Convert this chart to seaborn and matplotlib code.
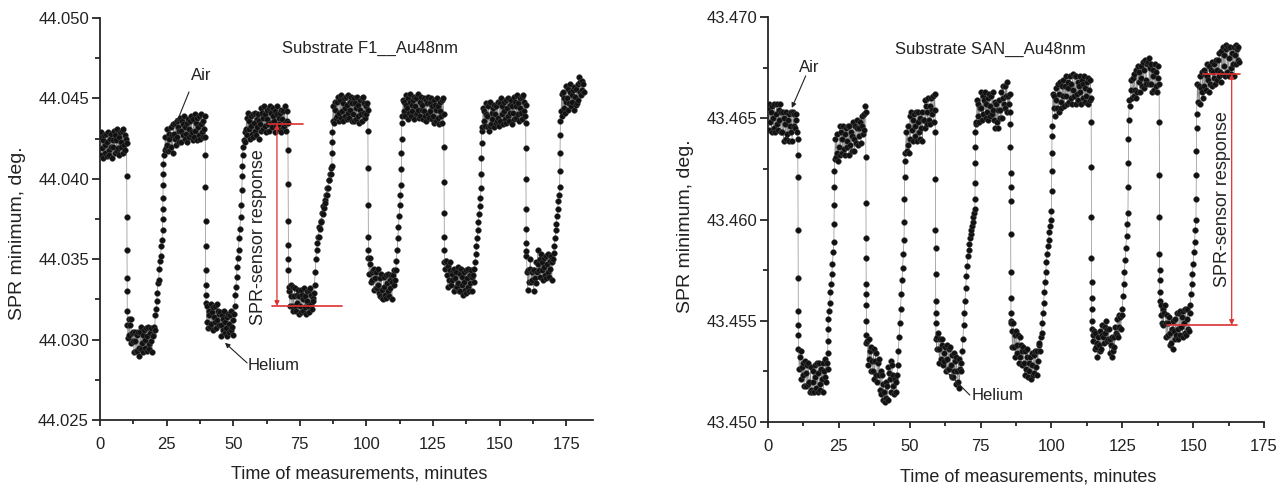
import numpy as np
import pandas as pd
import matplotlib
matplotlib.use("Agg")
import matplotlib.pyplot as plt
from matplotlib.ticker import MultipleLocator, FormatStrFormatter
import seaborn as sns

# ---------------------------------------------------------------------------
# Logged SPR-minimum readings, one every STEP minutes, stored as millidegrees
# above a base angle (20 readings = 5 minutes per row).  Fast gas-switch
# transitions were logged more densely; those extra readings are kept
# separately together with the grid time they follow.
# ---------------------------------------------------------------------------
STEP = 0.25  # minutes between regular readings

F1_BASE = 44.0
f1_mdeg = [
    42.6, 41.5, 42.9, 41.9, 42.4, 41.3, 42.7, 42.1, 41.6, 42.8, 41.4, 42.3, 42.9, 41.8, 41.5, 42.5, 42.0, 42.8, 41.3, 42.4,  # 0
    42.0, 43.0, 41.6, 42.7, 42.4, 41.7, 43.1, 41.9, 42.6, 41.5, 42.9, 42.3, 42.0, 43.0, 41.6, 43.1, 42.1, 42.7, 41.8, 42.5,  # 5
    42.2, 30.9, 30.1, 31.3, 30.3, 30.9, 31.3, 29.8, 30.4, 29.9, 30.5, 29.2, 30.5, 29.9, 29.3, 30.3, 29.3, 30.5, 29.5, 29.0,  # 10
    30.5, 29.4, 30.8, 29.8, 30.3, 29.2, 30.6, 30.0, 29.5, 30.7, 29.3, 30.2, 30.8, 29.7, 29.4, 30.4, 29.9, 30.7, 29.2, 30.3,  # 15
    30.2, 30.8, 30.6, 31.5, 31.9, 32.4, 32.9, 33.5, 33.7, 34.4, 34.9, 35.2, 35.8, 36.2, 36.8, 40.9, 41.5, 41.8, 42.6, 41.9,  # 20
    42.1, 43.1, 41.7, 42.8, 42.5, 41.8, 43.2, 42.0, 42.7, 41.6, 43.4, 42.8, 42.5, 43.5, 42.1, 43.6, 42.6, 43.2, 42.3, 43.0,  # 25
    43.8, 43.0, 42.3, 43.6, 42.7, 43.4, 43.9, 42.5, 43.2, 42.8, 43.5, 42.3, 43.7, 43.1, 42.6, 43.6, 42.7, 43.9, 42.9, 42.4,  # 30
    43.7, 42.6, 44.0, 43.0, 43.5, 42.4, 43.8, 43.2, 42.7, 43.9, 42.5, 43.4, 44.0, 42.9, 42.6, 43.6, 43.1, 43.9, 42.6, 32.3,  # 35
    31.1, 32.1, 30.7, 31.8, 31.5, 30.8, 32.2, 31.0, 31.7, 30.6, 32.0, 31.4, 31.1, 32.1, 30.7, 32.2, 31.2, 31.8, 30.9, 31.6,  # 40
    31.7, 30.9, 30.2, 31.5, 30.6, 31.3, 31.8, 30.4, 31.1, 30.7, 31.4, 30.2, 31.6, 31.0, 30.5, 31.5, 30.6, 31.8, 30.8, 30.3,  # 45
    31.2, 31.6, 32.1, 32.8, 33.3, 33.9, 34.5, 35.1, 35.6, 36.3, 36.9, 37.6, 38.4, 39.3, 41.5, 42.0, 42.4, 42.9, 42.3, 43.1,  # 50
    43.8, 42.7, 44.1, 43.1, 43.6, 42.5, 43.9, 43.3, 42.8, 44.0, 42.6, 43.5, 44.1, 43.0, 42.7, 43.7, 43.2, 44.0, 42.5, 43.6,  # 55
    43.4, 44.4, 43.0, 44.1, 43.8, 43.1, 44.5, 43.3, 44.0, 42.9, 44.3, 43.7, 43.4, 44.4, 43.0, 44.5, 43.5, 44.1, 43.2, 43.9,  # 60
    44.4, 43.6, 42.9, 44.2, 43.3, 44.0, 44.5, 43.1, 43.8, 43.4, 44.1, 42.9, 44.3, 43.7, 43.2, 44.2, 43.3, 44.5, 43.5, 43.0,  # 65
    43.6, 44.2, 43.5, 33.0, 33.3, 32.1, 33.4, 32.7, 32.1, 33.3, 31.8, 32.7, 33.2, 32.1, 31.8, 32.8, 32.3, 33.1, 31.6, 32.7,  # 70
    32.1, 33.1, 31.7, 32.8, 32.5, 31.8, 33.2, 32.0, 32.7, 31.6, 33.0, 32.4, 32.1, 33.1, 31.7, 33.2, 32.2, 32.8, 31.9, 32.6,  # 75
    32.4, 32.9, 33.4, 34.2, 35.0, 35.6, 36.0, 36.4, 36.4, 37.0, 36.9, 37.4, 37.3, 37.9, 37.8, 38.3, 38.2, 38.7, 38.5, 39.0,  # 80
    39.0, 39.4, 39.4, 39.9, 39.9, 40.3, 40.3, 40.7, 40.8, 43.6, 44.5, 43.5, 44.8, 44.3, 43.8, 44.8, 43.9, 45.1, 44.1, 43.6,  # 85
    44.9, 43.8, 45.2, 44.2, 44.7, 43.6, 45.0, 44.4, 43.9, 45.1, 43.7, 44.6, 45.2, 44.1, 43.8, 44.8, 44.3, 45.1, 43.6, 44.7,  # 90
    44.0, 45.0, 43.6, 44.7, 44.4, 43.7, 45.1, 43.9, 44.6, 43.5, 44.9, 44.3, 44.0, 45.0, 43.6, 45.1, 44.1, 44.7, 43.8, 44.5,  # 95
    44.0, 44.7, 44.3, 35.1, 34.1, 34.7, 35.1, 33.6, 34.2, 33.7, 34.3, 33.1, 34.4, 33.8, 33.2, 34.2, 33.2, 34.4, 33.4, 32.9,  # 100
    33.8, 32.7, 34.1, 33.1, 32.6, 32.5, 33.9, 33.3, 32.8, 34.0, 32.6, 33.5, 34.1, 33.0, 32.7, 33.7, 33.2, 34.0, 32.5, 33.6,  # 105
    34.0, 33.4, 34.3, 33.7, 34.3, 34.9, 35.6, 36.3, 37.0, 37.7, 38.4, 39.0, 39.6, 43.5, 43.9, 44.9, 44.2, 44.8, 43.9, 44.6,  # 110
    45.2, 44.4, 43.7, 45.0, 44.1, 44.8, 45.3, 43.9, 44.6, 44.2, 44.9, 43.7, 45.1, 44.5, 44.0, 45.0, 44.1, 45.3, 44.3, 43.8,  # 115
    44.8, 43.9, 45.1, 44.3, 44.6, 43.7, 45.0, 44.2, 43.9, 44.9, 43.6, 44.7, 45.1, 44.0, 43.8, 44.7, 44.2, 45.0, 43.7, 44.5,  # 120
    43.9, 44.9, 43.5, 44.6, 44.3, 43.6, 45.0, 43.8, 44.5, 43.4, 44.8, 44.2, 43.9, 44.9, 43.5, 45.0, 44.0, 34.8, 34.4, 34.9,  # 125
    34.9, 34.0, 33.3, 34.6, 33.7, 34.3, 34.8, 33.4, 34.1, 33.7, 34.3, 33.0, 34.4, 33.8, 33.3, 34.2, 33.3, 34.5, 33.5, 33.0,  # 130
    34.1, 33.0, 34.4, 33.4, 33.9, 32.8, 34.2, 33.6, 33.1, 34.3, 32.9, 33.8, 34.4, 33.3, 33.0, 34.0, 33.5, 34.3, 33.0, 33.9,  # 135
    34.0, 33.6, 34.4, 34.8, 35.3, 35.8, 36.3, 36.8, 37.3, 37.8, 38.3, 38.8, 39.4, 43.0, 43.2, 44.4, 43.6, 44.2, 43.3, 44.0,  # 140
    44.7, 43.9, 43.2, 44.5, 43.0, 43.3, 44.8, 43.4, 44.1, 43.7, 44.4, 43.2, 44.6, 44.0, 43.5, 44.5, 43.6, 44.8, 43.8, 43.3,  # 145
    44.7, 43.6, 45.0, 44.0, 44.5, 43.4, 44.8, 44.2, 43.7, 44.9, 43.5, 44.4, 45.0, 43.9, 43.6, 44.6, 44.1, 44.9, 43.4, 44.5,  # 150
    44.1, 45.1, 43.7, 44.8, 44.5, 43.8, 45.2, 44.0, 44.7, 43.6, 45.0, 44.4, 44.1, 45.1, 43.7, 45.2, 44.2, 44.8, 43.9, 44.6,  # 155
    35.5, 34.2, 33.1, 34.3, 33.6, 34.4, 35.0, 33.6, 34.2, 33.7, 34.3, 33.0, 34.3, 33.8, 33.5, 34.8, 34.2, 35.6, 34.7, 34.3,  # 160
    35.0, 33.9, 35.3, 34.3, 34.8, 33.7, 35.1, 34.5, 34.0, 35.2, 33.8, 34.7, 35.3, 34.2, 33.9, 34.9, 34.4, 35.2, 33.7, 34.8,  # 165
    35.0, 35.4, 35.8, 36.3, 36.8, 37.2, 37.7, 38.1, 38.6, 39.0, 39.5, 43.6, 44.2, 45.3, 43.9, 45.4, 44.4, 45.0, 44.1, 44.8,  # 170
    45.8, 45.0, 44.3, 45.6, 44.7, 45.4, 45.9, 44.5, 45.2, 44.8, 45.5, 44.3, 45.7, 45.1, 44.6, 45.6, 44.7, 45.9, 44.9, 46.3,  # 175
    45.4, 46.0, 45.2, 46.1, 45.5, 45.9, 45.4,                                                                                # 180
]
f1_switch_after = [10.0, 23.5, 39.5, 53.25, 70.5, 87.0,
                   100.5, 113.0, 129.0, 143.0, 159.75, 172.5]
f1_switch_mdeg = [
    [40.2, 37.6, 35.6, 33.8, 33.0, 31.8],
    [37.5, 38.1, 38.8, 39.6, 40.3],
    [41.5, 39.5, 37.4, 35.8, 34.3, 33.4, 32.8],
    [40.2, 40.8],
    [41.8, 39.7, 37.4, 35.9, 35.0, 34.3],
    [41.6, 42.3, 42.9],
    [43.0, 40.7, 38.4, 36.4, 35.6],
    [40.6, 41.6, 42.5],
    [42.0, 39.8, 37.9, 36.4, 35.6],
    [40.3, 41.3, 42.2],
    [43.5, 41.9, 40.0, 38.1, 36.9, 36.0, 35.2],
    [40.5, 41.6, 42.7],
]

SAN_BASE = 43.4
san_mdeg = [
    65.5, 64.4, 65.7, 64.8, 65.3, 64.3, 65.6, 65.0, 64.5, 65.7, 64.3, 65.2, 65.7, 64.7, 64.4, 65.4, 64.9, 65.7, 64.3, 65.3,  # 0
    64.3, 65.3, 63.9, 65.0, 64.7, 64.0, 65.3, 64.2, 64.9, 63.9, 65.2, 64.6, 64.3, 65.3, 63.9, 65.3, 64.6, 65.2, 64.5, 65.2,  # 5
    64.9, 64.3, 64.0, 53.6, 52.6, 53.2, 53.5, 52.1, 52.7, 52.3, 52.9, 51.8, 53.0, 52.4, 51.8, 52.8, 51.9, 52.9, 52.0, 51.5,  # 10
    52.7, 51.6, 51.5, 52.0, 52.5, 51.5, 52.8, 52.2, 51.7, 52.9, 51.5, 52.4, 52.9, 51.9, 51.6, 52.6, 52.1, 52.9, 51.5, 52.5,  # 15
    52.2, 53.1, 52.0, 52.9, 52.6, 55.1, 55.5, 55.9, 56.4, 56.8, 57.3, 57.8, 58.4, 58.9, 63.0, 64.0, 63.1, 64.2, 63.3, 62.9,  # 20
    63.6, 64.6, 63.2, 64.3, 64.0, 63.3, 64.6, 63.5, 64.2, 63.2, 64.5, 63.9, 63.6, 64.6, 63.2, 64.6, 63.7, 64.3, 63.4, 64.1,  # 25
    64.8, 64.0, 63.4, 64.6, 63.8, 64.5, 64.9, 63.7, 64.5, 64.1, 64.8, 63.8, 65.1, 64.6, 64.2, 65.2, 64.4, 65.6, 65.3, 53.9,  # 30
    54.0, 52.8, 54.1, 53.1, 53.5, 52.5, 53.7, 53.0, 52.5, 53.6, 52.1, 53.0, 53.4, 52.3, 52.0, 52.9, 52.3, 53.1, 51.6, 52.5,  # 35
    51.4, 52.3, 51.1, 51.9, 51.5, 51.0, 52.0, 51.2, 51.8, 51.1, 52.7, 52.4, 52.1, 53.0, 51.5, 52.8, 51.8, 52.3, 51.4, 52.1,  # 40
    52.0, 51.5, 52.3, 52.8, 53.5, 54.2, 54.9, 55.6, 56.3, 57.0, 57.6, 58.3, 59.0, 62.9, 63.3, 64.3, 63.4, 64.6, 63.7, 63.3,  # 45
    65.1, 64.0, 65.3, 64.4, 64.9, 63.9, 65.2, 64.6, 64.1, 65.3, 63.9, 64.8, 65.3, 64.3, 64.0, 65.0, 64.5, 65.3, 63.9, 64.9,  # 50
    64.9, 65.9, 64.5, 65.6, 65.3, 64.7, 66.0, 64.9, 65.6, 64.7, 66.0, 65.4, 65.2, 66.1, 64.8, 66.2, 65.4, 54.1, 53.6, 54.2,  # 55
    54.4, 53.6, 52.9, 54.1, 53.1, 53.8, 54.1, 52.8, 53.4, 53.0, 53.7, 52.5, 53.8, 53.1, 52.6, 53.6, 52.6, 53.7, 52.8, 52.2,  # 60
    53.3, 52.2, 53.4, 52.5, 53.0, 51.9, 53.2, 52.5, 52.0, 53.1, 51.7, 52.6, 52.5, 52.9, 53.5, 54.1, 54.8, 55.4, 56.0, 56.6,  # 65
    57.2, 57.7, 58.2, 58.5, 58.8, 59.1, 59.3, 59.5, 59.7, 59.9, 60.1, 60.3, 60.5, 64.7, 64.8, 65.9, 65.1, 65.7, 64.8, 65.5,  # 70
    66.3, 65.5, 64.9, 66.1, 65.2, 65.9, 66.3, 65.0, 65.7, 65.3, 66.0, 64.9, 66.2, 65.6, 65.1, 66.1, 65.2, 66.3, 65.4, 64.9,  # 75
    65.8, 64.5, 65.7, 64.8, 65.4, 64.5, 65.9, 65.4, 65.0, 66.3, 65.0, 66.0, 66.6, 65.7, 65.5, 66.6, 66.1, 66.8, 65.3, 66.1,  # 80
    65.7, 66.2, 65.3, 54.9, 54.5, 53.7, 54.9, 53.7, 54.3, 53.2, 54.5, 53.8, 53.4, 54.3, 52.9, 54.2, 53.2, 53.8, 52.8, 53.5,  # 85
    53.7, 52.9, 52.3, 53.5, 52.6, 53.2, 53.6, 52.2, 52.9, 52.5, 53.2, 52.1, 53.4, 52.8, 52.3, 53.3, 52.4, 53.5, 52.7, 52.3,  # 90
    53.5, 53.0, 53.8, 53.9, 53.5, 54.2, 54.4, 54.9, 55.4, 55.9, 56.4, 56.9, 57.4, 57.9, 58.3, 58.7, 59.0, 59.4, 59.7, 60.0,  # 95
    60.4, 64.6, 66.2, 65.5, 66.1, 65.1, 66.5, 65.9, 65.5, 66.7, 65.3, 66.2, 66.8, 65.8, 65.5, 66.6, 66.1, 66.9, 65.6, 66.6,  # 100
    66.1, 67.1, 65.7, 66.8, 66.5, 65.8, 67.1, 66.0, 66.7, 65.7, 67.2, 66.4, 66.1, 67.1, 65.7, 67.1, 66.2, 66.8, 65.9, 66.6,  # 105
    67.1, 66.3, 65.7, 66.9, 66.0, 66.7, 67.1, 65.8, 66.5, 66.1, 66.8, 65.7, 67.0, 66.4, 65.9, 66.9, 66.0, 54.6, 54.0, 54.3,  # 110
    54.5, 53.6, 54.4, 53.7, 53.9, 53.2, 54.2, 53.8, 53.5, 54.5, 53.6, 54.3, 54.8, 54.2, 53.9, 54.7, 54.4, 55.0, 54.0, 54.6,  # 115
    54.1, 54.6, 53.4, 54.1, 53.8, 53.2, 54.2, 53.5, 54.2, 53.7, 54.7, 54.4, 54.3, 55.1, 54.2, 55.3, 54.7, 55.2, 54.6, 55.3,  # 120
    55.6, 56.2, 56.8, 57.4, 58.0, 58.6, 59.2, 59.8, 60.3, 64.9, 65.9, 65.6, 66.9, 66.4, 66.0, 67.0, 66.1, 67.2, 66.4, 66.0,  # 125
    67.4, 66.3, 67.6, 66.8, 67.3, 66.3, 67.6, 67.0, 66.6, 67.8, 66.5, 67.4, 67.9, 66.9, 66.7, 67.7, 67.8, 68.0, 66.7, 67.5,  # 130
    66.7, 67.7, 66.3, 67.4, 67.1, 66.4, 67.7, 66.6, 67.3, 66.3, 67.6, 67.0, 66.7, 56.0, 55.3, 55.8, 54.9, 55.6, 54.8, 55.4,  # 135
    55.8, 54.9, 54.2, 55.3, 54.3, 54.9, 55.2, 53.8, 54.4, 53.9, 54.6, 53.6, 55.0, 54.5, 54.1, 55.1, 54.3, 55.4, 54.6, 54.1,  # 140
    55.4, 54.3, 55.5, 54.7, 55.2, 54.2, 55.5, 54.9, 54.4, 55.6, 54.3, 55.1, 55.6, 54.6, 54.5, 55.4, 55.8, 56.3, 56.8, 57.3,  # 145
    57.8, 58.4, 58.9, 59.5, 60.0, 65.2, 66.7, 65.8, 66.6, 65.7, 67.1, 66.5, 66.3, 67.3, 66.0, 67.4, 66.6, 67.2, 66.4, 67.1,  # 150
    67.7, 66.9, 66.3, 67.6, 66.7, 67.4, 67.8, 66.6, 67.3, 67.0, 67.7, 66.7, 67.9, 67.4, 66.9, 67.9, 67.1, 68.2, 67.3, 66.8,  # 155
    68.3, 67.2, 68.5, 67.6, 68.1, 67.1, 68.4, 68.6, 67.3, 68.5, 67.1, 68.0, 68.5, 67.5, 67.2, 68.2, 67.7, 68.5, 67.1, 68.1,  # 160
    68.6, 67.7, 68.4, 67.9, 68.5, 67.8,                                                                                      # 165
]
san_switch_after = [10.5, 21.0, 23.25, 34.5, 48.0, 59.0, 73.0,
                    85.5, 100.0, 114.0, 127.0, 138.0, 151.0]
san_switch_mdeg = [
    [63.2, 62.1, 59.5, 57.1, 55.5, 54.8, 54.3],
    [53.4, 54.0, 54.6],
    [59.8, 60.7, 61.6, 62.4],
    [63.1, 60.8, 59.1, 58.1, 56.8, 56.3, 55.8, 55.0, 54.3],
    [59.9, 61.0, 62.1],
    [64.3, 62.0, 59.5, 58.6, 57.3, 56.0, 55.4, 54.9],
    [61.0, 61.8, 62.8, 63.6, 64.3],
    [64.7, 63.6, 62.3, 61.6, 60.9, 59.3, 57.4, 56.1, 55.4, 55.0],
    [61.4, 62.4, 63.3, 64.1],
    [64.8, 62.6, 60.1, 58.1, 56.9, 56.1, 55.6, 55.0],
    [61.6, 62.8, 64.0],
    [64.8, 62.2, 60.1, 58.3, 57.5, 57.0, 56.4],
    [61.0, 62.2, 63.4, 64.5],
]


def build_series(base, grid_mdeg, switch_after, switch_mdeg):
    """Merge the regular readings with the dense switching readings."""
    t = list(np.arange(len(grid_mdeg)) * STEP)
    v = list(grid_mdeg)
    for t0, vals in zip(switch_after, switch_mdeg):
        n = len(vals)
        for k, val in enumerate(vals):
            t.append(t0 + STEP * (k + 1) / (n + 1))
            v.append(val)
    df = pd.DataFrame({"time": t, "spr": base + np.array(v) / 1000.0})
    return df.sort_values("time").reset_index(drop=True)


f1 = build_series(F1_BASE, f1_mdeg, f1_switch_after, f1_switch_mdeg)
san = build_series(SAN_BASE, san_mdeg, san_switch_after, san_switch_mdeg)

# ---------------------------------------------------------------------------
sns.set_theme(style="ticks")
plt.rcParams["font.family"] = ["Liberation Sans", "DejaVu Sans"]
plt.rcParams["axes.linewidth"] = 1.3

W, H = 1288, 490
fig = plt.figure(figsize=(W / 100, H / 100), dpi=100)
fig.patch.set_facecolor("white")

RED = "#dd3030"
TICK_FS = 12
LABEL_FS = 13


def px_axes(x0, x1, top, bottom):
    return fig.add_axes([x0 / W, (H - bottom) / H, (x1 - x0) / W, (bottom - top) / H])


def draw_series(ax, df):
    sns.lineplot(data=df, x="time", y="spr", ax=ax, color="#8c8c8c",
                 linewidth=0.5, estimator=None, sort=False, zorder=2)
    sns.scatterplot(data=df, x="time", y="spr", ax=ax, s=17, color="#111111",
                    edgecolor="#4a4a4a", linewidth=0.35, zorder=3)


def style_axes(ax, xmax, ylo, yhi, ylabel_pos, xlabel_pos):
    ax.set_xlim(0, xmax)
    ax.set_ylim(ylo, yhi)
    ax.xaxis.set_major_locator(MultipleLocator(25))
    ax.xaxis.set_minor_locator(MultipleLocator(12.5))
    ax.yaxis.set_major_locator(MultipleLocator(0.005))
    ax.yaxis.set_minor_locator(MultipleLocator(0.0025))
    ax.yaxis.set_major_formatter(FormatStrFormatter("%.3f"))
    ax.xaxis.set_major_formatter(FormatStrFormatter("%d"))
    for side in ("top", "right"):
        ax.spines[side].set_visible(False)
    ax.tick_params(axis="both", which="both", direction="out", colors="black",
                   width=1.1, labelsize=TICK_FS, labelcolor="#222222")
    ax.tick_params(axis="y", which="major", length=6, pad=2)
    ax.tick_params(axis="y", which="minor", length=3.5)
    ax.tick_params(axis="x", which="major", length=4.5, pad=8)
    ax.tick_params(axis="x", which="minor", length=3)
    ax.set_xlabel("Time of measurements, minutes", fontsize=LABEL_FS, color="#222222")
    ax.set_ylabel("SPR minimum, deg.", fontsize=LABEL_FS + 1, color="#222222")
    ax.yaxis.label.set_va("center")
    ax.xaxis.label.set_va("center")
    ax.yaxis.set_label_coords(*ylabel_pos)
    ax.xaxis.set_label_coords(*xlabel_pos)


def response_marker(ax, x_arrow, y_top, y_bot, top_span, bot_span, text_xy):
    ax.plot(top_span, [y_top, y_top], color=RED, lw=1.2, zorder=4)
    ax.plot(bot_span, [y_bot, y_bot], color=RED, lw=1.2, zorder=4)
    ax.annotate("", xy=(x_arrow, y_bot), xytext=(x_arrow, y_top),
                arrowprops=dict(arrowstyle="<|-|>", color=RED, lw=0.9,
                                mutation_scale=7, shrinkA=0, shrinkB=0), zorder=4)
    ax.text(*text_xy, "SPR-sensor response", rotation=90, ha="center", va="center",
            fontsize=LABEL_FS, color="#222222", zorder=5)


def pointer(ax, label, head, tail, text_xy, ha):
    ax.annotate("", xy=head, xytext=tail,
                arrowprops=dict(arrowstyle="-|>", color="#222222", lw=0.8,
                                mutation_scale=7, shrinkA=0, shrinkB=0), zorder=5)
    ax.text(*text_xy, label, ha=ha, va="center", fontsize=TICK_FS, color="#222222")


# Left panel: substrate F1
ax1 = px_axes(100, 593, 18, 420)
draw_series(ax1, f1)
style_axes(ax1, 185, 44.025, 44.050, (-0.168, 0.465), (0.525, -0.134))
ax1.text(101.3, 44.0481, "Substrate F1__Au48nm", ha="center", va="center",
         fontsize=TICK_FS, color="#222222")
pointer(ax1, "Air", (28.5, 44.0434), (33.4, 44.0454), (37.9, 44.0464), "center")
pointer(ax1, "Helium", (46.9, 44.0298), (55.2, 44.02855), (55.5, 44.0284), "left")
response_marker(ax1, 66.4, 44.04341, 44.03209, (63.0, 76.2), (64.5, 90.8),
                (59.3, 44.0364))

# Right panel: substrate SAN
ax2 = px_axes(768, 1264, 17, 422)
draw_series(ax2, san)
style_axes(ax2, 175, 43.450, 43.470, (-0.167, 0.484), (0.524, -0.136))
ax2.text(78.6, 43.46842, "Substrate SAN__Au48nm", ha="center", va="center",
         fontsize=TICK_FS, color="#222222")
pointer(ax2, "Air", (8.4, 43.46551), (13.3, 43.46709), (14.5, 43.46753), "center")
pointer(ax2, "Helium", (63.6, 43.4524), (71.2, 43.45133), (71.9, 43.45133), "left")
response_marker(ax2, 163.6, 43.46719, 43.45479, (153.4, 166.4), (140.7, 165.4),
                (160.4, 43.4610))

fig.savefig("out.png", dpi=100, facecolor="white")
